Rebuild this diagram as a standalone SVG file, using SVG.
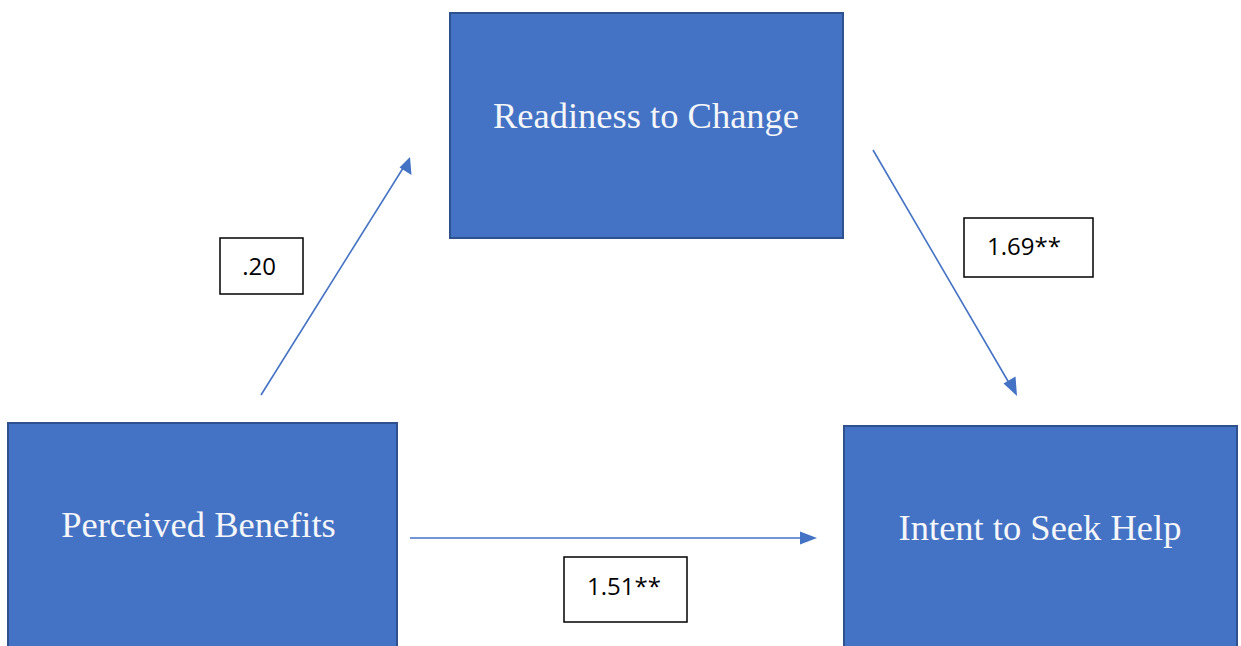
<svg xmlns="http://www.w3.org/2000/svg" width="1241" height="646" viewBox="0 0 1241 646">
<style>
.node{fill:#4472C4;stroke:#2F528F;stroke-width:2}
.ntext{font-family:"Liberation Serif","Times New Roman",serif;font-size:36.5px;fill:#F4F6FA;text-anchor:middle}
.lbl{fill:#FFFFFF;stroke:#000000;stroke-width:1.5}
.ltext{font-family:"Open Sans","Liberation Sans",sans-serif;font-size:24px;fill:#000000;text-anchor:middle}
.conn{stroke:#4472C4;stroke-width:1.6;fill:none}
.head{fill:#4472C4}
</style>
<rect width="1241" height="646" fill="#FFFFFF"/>
<g id="connectors">
<line class="conn" x1="261" y1="395" x2="405" y2="165"/>
<polygon class="head" points="410,157 411.5,175 399.5,167.5"/>
<line class="conn" x1="873" y1="150" x2="1012" y2="388"/>
<polygon class="head" points="1017,396 1003.5,383.5 1015.5,376.5"/>
<line class="conn" x1="410" y1="538" x2="805" y2="538"/>
<polygon class="head" points="817,538 800,531.5 800,544.5"/>
</g>
<g id="node-readiness">
<rect class="node" x="450" y="13" width="393" height="225"/>
<text class="ntext" x="646" y="128">Readiness to Change</text>
</g>
<g id="node-perceived">
<rect class="node" x="8" y="423" width="389" height="240"/>
<text class="ntext" x="198.5" y="537">Perceived Benefits</text>
</g>
<g id="node-intent">
<rect class="node" x="844" y="426" width="393" height="240"/>
<text class="ntext" x="1040" y="540">Intent to Seek Help</text>
</g>
<g id="label-a">
<rect class="lbl" x="220" y="238" width="83" height="56"/>
<text class="ltext" x="259" y="275">.20</text>
</g>
<g id="label-b">
<rect class="lbl" x="964" y="218" width="129" height="59"/>
<text class="ltext" x="1024" y="255">1.69**</text>
</g>
<g id="label-c">
<rect class="lbl" x="564" y="557" width="123" height="65"/>
<text class="ltext" x="624" y="595">1.51**</text>
</g>
</svg>
